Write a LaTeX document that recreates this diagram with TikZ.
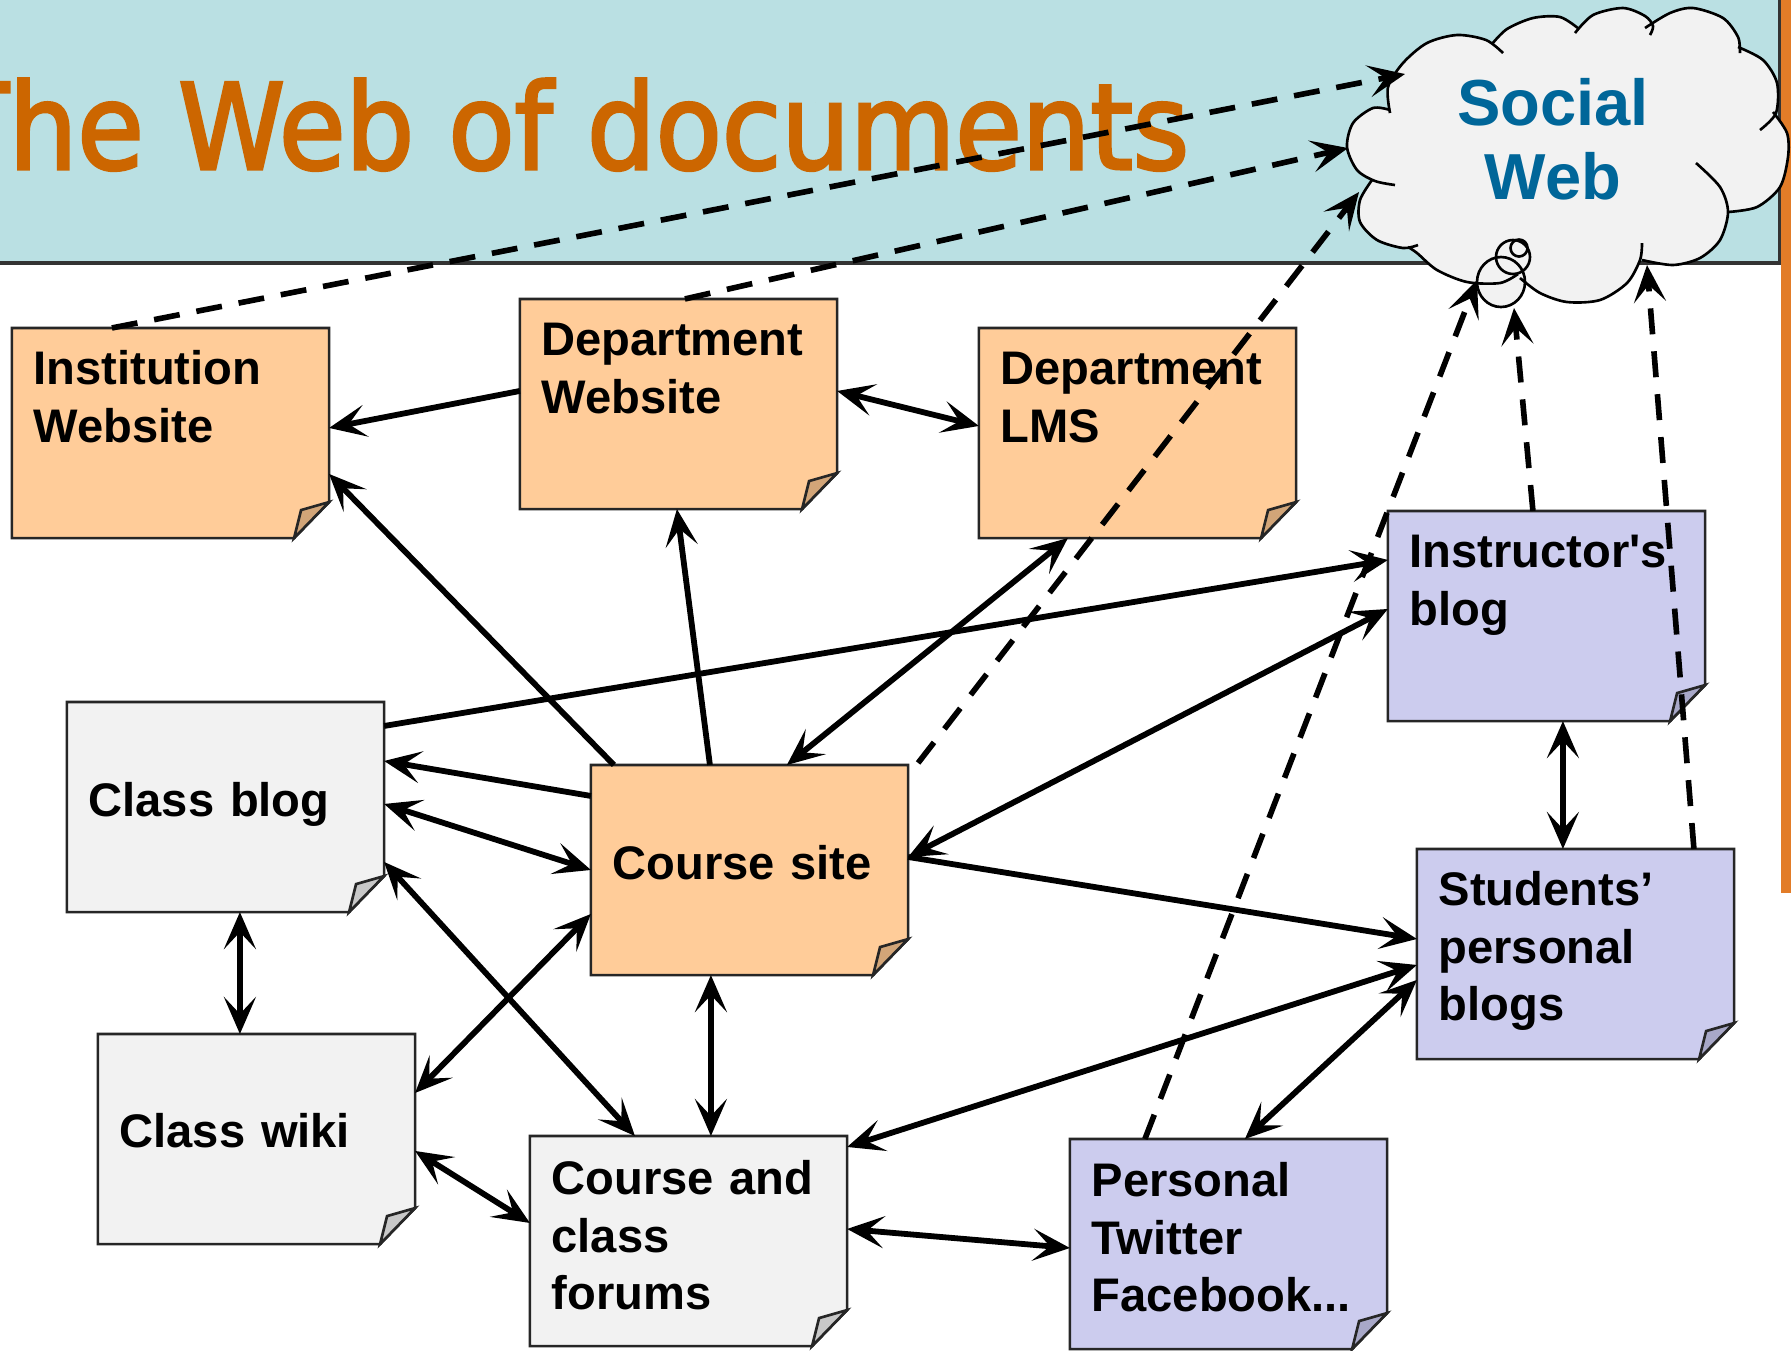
\documentclass[tikz,border=0pt]{standalone}
\usepackage{fontspec}
\setmainfont{Liberation Sans}
\newfontfamily\titlefont[FakeStretch=0.91,FakeBold=2.5]{DejaVu Sans}
\usetikzlibrary{arrows.meta,calc}
\definecolor{headbg}{RGB}{186,224,227}
\definecolor{titleor}{RGB}{204,102,0}
\definecolor{barorange}{RGB}{226,124,40}
\definecolor{socialblue}{RGB}{0,102,153}
\definecolor{noteor}{RGB}{255,204,153}
\definecolor{foldor}{RGB}{210,165,120}
\definecolor{notegray}{RGB}{242,242,242}
\definecolor{foldgray}{RGB}{200,200,200}
\definecolor{notelav}{RGB}{204,204,238}
\definecolor{foldlav}{RGB}{168,168,200}
\definecolor{cloudgray}{RGB}{242,242,242}
\newcommand\stickynote[3]{%
  \draw[outline, fill=#2] (#1.north west) -- (#1.north east) -- ([yshift=0.36cm]#1.south east) -- ([xshift=-0.35cm]#1.south east) -- (#1.south west) -- cycle;
  \draw[outline, fill=#3] ([yshift=0.36cm]#1.south east) -- ([xshift=-0.28cm,yshift=0.28cm]#1.south east) -- ([xshift=-0.35cm]#1.south east) -- cycle;
}
% cloud lobes (clockwise)
\def\lobeA{(1390,113) (1388,87) (1403,63) (1427,43) (1457,35) (1486,40) (1503,53)}
\def\lobeB{(1492,44) (1507,29) (1533,18) (1560,17) (1579,29)}
\def\lobeC{(1575,33) (1593,15) (1623,8) (1645,16) (1653,26) (1650,35)}
\def\lobeD{(1645,28) (1670,13) (1693,8) (1723,18) (1738,37) (1740,53)}
\def\lobeE{(1738,47) (1763,60) (1777,83) (1776,113) (1760,130)}
\def\lobeF{(1773,112) (1787,133) (1788,157) (1780,187) (1757,207) (1728,212)}
\def\lobeG{(1696,163) (1720,187) (1728,212) (1720,240) (1700,258) (1673,265) (1642,260)}
\def\lobeH{(1642,243) (1640,260) (1627,283) (1600,300) (1567,302) (1540,293) (1520,278)}
\def\lobeI{(1518,274) (1500,283) (1467,282) (1437,270) (1417,253) (1408,247)}
\def\lobeJ{(1418,245) (1403,248) (1377,240) (1360,222) (1360,200) (1372,180)}
\def\lobeK{(1395,185) (1375,181) (1357,170) (1347,147) (1353,123) (1373,108) (1390,110)}
\begin{document}
\begin{tikzpicture}[x=0.01cm,y=-0.01cm,
  box/.style={minimum width=3.17cm, minimum height=2.1cm, inner sep=0pt, outer sep=0pt},
  outline/.style={draw=black!85, line width=0.75pt},
  notelabel/.style={font=\fontsize{13.4}{16.3}\selectfont\bfseries, text width=3cm, align=left, inner sep=0pt, anchor=base west},
  link/.style={line width=1.65pt},
  dlink/.style={line width=1.6pt, dash pattern=on 0.26cm off 0.17cm},
  cloudline/.style={draw=black, line width=0.75pt},
  >={Stealth[length=0.37cm,width=0.32cm,inset=0.17cm]}
]
\useasboundingbox (0,0) rectangle (1791,1350);
\clip (0,0) rectangle (1791,1350);
% header
\fill[headbg] (0,0) rectangle (1780,263);
\draw[black!80, line width=1pt] (0,263) -- (1780,263) -- (1780,0);
\fill[barorange] (1781,0) rectangle (1791,893);
\node[font=\titlefont\fontsize{33.8}{40}\selectfont, text=titleor, inner sep=0pt, anchor=base west] (title) at (-58,169) {The Web of documents};
% notes
\node[box] (inst) at (170.5,433) {};
\node[box] (dweb) at (678.5,404) {};
\node[box] (lms) at (1137.5,433) {};
\node[box] (iblog) at (1546.5,616) {};
\node[box] (cblog) at (225.5,807) {};
\node[box] (csite) at (749.5,870) {};
\node[box] (sblog) at (1575.5,954) {};
\node[box] (wiki) at (256.5,1139) {};
\node[box] (forum) at (688.5,1241) {};
\node[box] (pers) at (1228.5,1244) {};
\stickynote{inst}{noteor}{foldor}
\stickynote{dweb}{noteor}{foldor}
\stickynote{lms}{noteor}{foldor}
\stickynote{csite}{noteor}{foldor}
\stickynote{iblog}{notelav}{foldlav}
\stickynote{sblog}{notelav}{foldlav}
\stickynote{pers}{notelav}{foldlav}
\stickynote{cblog}{notegray}{foldgray}
\stickynote{wiki}{notegray}{foldgray}
\stickynote{forum}{notegray}{foldgray}
\node[notelabel] (inst-t) at ($(inst.north west)+(21,57)$) {Institution\\Website};
\node[notelabel] (dweb-t) at ($(dweb.north west)+(21,57)$) {Department\\Website};
\node[notelabel] (lms-t) at ($(lms.north west)+(21,57)$) {Department\\LMS};
\node[notelabel] (iblog-t) at ($(iblog.north west)+(21,57)$) {Instructor\textquotesingle s\\blog};
\node[notelabel] (sblog-t) at ($(sblog.north west)+(21,57)$) {Students’\\personal\\blogs};
\node[notelabel] (cblog-t) at ($(cblog.north west)+(21,115)$) {Class blog};
\node[notelabel] (csite-t) at ($(csite.north west)+(21,115)$) {Course site};
\node[notelabel] (wiki-t) at ($(wiki.north west)+(21,114)$) {Class wiki};
\node[notelabel] (forum-t) at ($(forum.north west)+(21,59)$) {Course and\\class\\forums};
\node[notelabel] (pers-t) at ($(pers.north west)+(21,58)$) {Personal\\Twitter\\Facebook...};
% solid connectors
\draw[link,->] ($(dweb.north west)+(0,92)$) -- ($(inst.north east)+(0,100)$);
\draw[link,<->] ($(dweb.north east)+(0,92)$) -- ($(lms.north west)+(0,98)$);
\draw[link,->] ($(csite.north west)+(23,0)$) -- ($(inst.north east)+(0,146)$);
\draw[link,->] ($(csite.north west)+(119,0)$) -- ($(dweb.south west)+(157,0)$);
\draw[link,<->] ($(csite.north west)+(196,0)$) -- ($(lms.south west)+(89,0)$);
\draw[link,->] ($(cblog.north east)+(0,24)$) -- ($(iblog.north west)+(0,49)$);
\draw[link,<->] ($(csite.north east)+(0,92)$) -- ($(iblog.north west)+(0,98)$);
\draw[link,->] ($(csite.north west)+(0,31)$) -- ($(cblog.north east)+(0,59)$);
\draw[link,<->] ($(cblog.north east)+(0,102)$) -- ($(csite.north west)+(0,105)$);
\draw[link,<->] ($(cblog.north east)+(0,160)$) -- ($(forum.north west)+(105,0)$);
\draw[link,<->] ($(cblog.south west)+(173,0)$) -- ($(wiki.north west)+(142,0)$);
\draw[link,<->] ($(csite.north west)+(0,149)$) -- ($(wiki.north east)+(0,59)$);
\draw[link,<->] ($(wiki.north east)+(0,117)$) -- ($(forum.north west)+(0,87)$);
\draw[link,<->] ($(csite.south west)+(120,0)$) -- ($(forum.north west)+(181,0)$);
\draw[link,->] ($(csite.north east)+(0,92)$) -- ($(sblog.north west)+(0,90)$);
\draw[link,<->] ($(forum.north east)+(0,11)$) -- ($(sblog.north west)+(0,116)$);
\draw[link,<->] ($(pers.north west)+(175,0)$) -- ($(sblog.north west)+(0,131)$);
\draw[link,<->] ($(forum.north east)+(0,93)$) -- ($(pers.north west)+(0,109)$);
\draw[link,<->] ($(iblog.south west)+(175,0)$) -- ($(sblog.north west)+(146,0)$);
% cloud
\fill[cloudgray] (1501,282) ellipse [x radius=24, y radius=25];
\fill[cloudgray] plot[smooth] coordinates {\lobeA} -- plot[smooth] coordinates {\lobeB}
  -- plot[smooth] coordinates {\lobeC} -- plot[smooth] coordinates {\lobeD}
  -- plot[smooth] coordinates {\lobeE} -- plot[smooth] coordinates {\lobeF}
  -- plot[smooth] coordinates {\lobeG} -- plot[smooth] coordinates {\lobeH}
  -- plot[smooth] coordinates {\lobeI} -- plot[smooth] coordinates {\lobeJ}
  -- plot[smooth] coordinates {\lobeK} -- cycle;
\coordinate (cloud) at (1568,155);
\draw[cloudline] plot[smooth] coordinates {\lobeA};
\draw[cloudline] plot[smooth] coordinates {\lobeB};
\draw[cloudline] plot[smooth] coordinates {\lobeC};
\draw[cloudline] plot[smooth] coordinates {\lobeD};
\draw[cloudline] plot[smooth] coordinates {\lobeE};
\draw[cloudline] plot[smooth] coordinates {\lobeF};
\draw[cloudline] plot[smooth] coordinates {\lobeG};
\draw[cloudline] plot[smooth] coordinates {\lobeH};
\draw[cloudline] plot[smooth] coordinates {\lobeI};
\draw[cloudline] plot[smooth] coordinates {\lobeJ};
\draw[cloudline] plot[smooth] coordinates {\lobeK};
\draw[cloudline] (1501,282) ellipse [x radius=24, y radius=25];
\draw[cloudline] (1513,257) circle [radius=17];
\draw[cloudline] (1519,248) circle [radius=8.5];
\node[font=\fontsize{18.5}{21.3}\selectfont\bfseries, text=socialblue, align=center, text width=4cm, inner sep=0pt, anchor=base] (social) at (1553,125) {Social\\Web};
% dashed connectors to the cloud
\coordinate (cA) at (1405,74);
\coordinate (cB) at (1348,148);
\coordinate (cC) at (1359,192);
\coordinate (cE) at (1514,308);
\coordinate (cF) at (1647,265);
\coordinate (cG) at (1477,280);
\draw[dlink,->] ($(inst.north west)+(100,0)$) -- (cA);
\draw[dlink,->] ($(dweb.north west)+(165,0)$) -- (cB);
\draw[dlink,->] ($(csite.north east)+(10,-2)$) -- (cC);
\draw[dlink,->] ($(iblog.north west)+(145,0)$) -- (cE);
\draw[dlink,->] ($(sblog.north west)+(277,0)$) -- (cF);
\draw[dlink,->] ($(pers.north west)+(75,0)$) -- (cG);
\end{tikzpicture}
\end{document}
